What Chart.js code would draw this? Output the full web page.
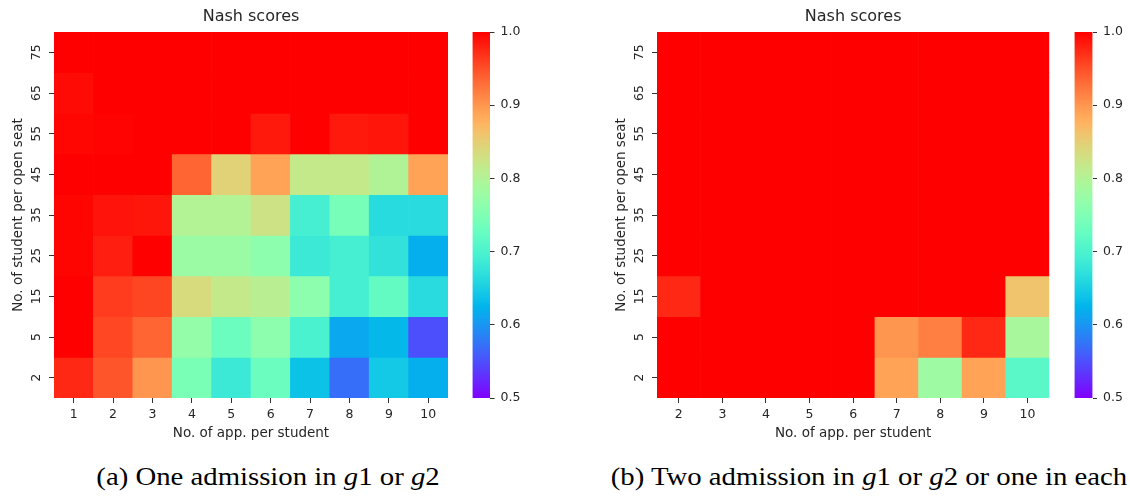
<!DOCTYPE html>
<html>
<head>
<meta charset="utf-8">
<script src="https://cdn.jsdelivr.net/npm/chart.js@4.4.1/dist/chart.umd.min.js"></script>
<style>
  body { margin: 0; background: #fff; width: 1130px; height: 496px; position: relative; overflow: hidden; }
  canvas { position: absolute; top: 0; }
  .cap { position: absolute; top: 463px; font-family: "Liberation Serif", "Times New Roman", serif; font-size: 25px; color: #000; white-space: nowrap; transform: translateX(-50%) scaleX(1.15); }
</style>
</head>
<body>
<canvas id="heatA" width="465" height="450" style="left:0px"></canvas>
<canvas id="barA" width="70" height="450" style="left:465px"></canvas>
<canvas id="heatB" width="464" height="450" style="left:603px"></canvas>
<canvas id="barB" width="63" height="450" style="left:1067px"></canvas>
<div class="cap" style="left:268px">(a) One admission in <i>g</i>1 or <i>g</i>2</div>
<div class="cap" style="left:869px">(b) Two admission in <i>g</i>1 or <i>g</i>2 or one in each</div>

<script>
// rows, top to bottom
var seatLabels = ['75', '65', '55', '45', '35', '25', '15', '5', '2'];

// (a) one admission in g1 or g2
var appLabelsA = ['1', '2', '3', '4', '5', '6', '7', '8', '9', '10'];
var scoresA = [
  [1.000, 1.000, 1.000, 1.000, 1.000, 1.000, 1.000, 1.000, 1.000, 1.000],
  [0.993, 1.000, 1.000, 1.000, 1.000, 1.000, 1.000, 1.000, 1.000, 1.000],
  [0.996, 0.998, 1.000, 1.000, 1.000, 0.985, 1.000, 0.985, 0.987, 1.000],
  [1.000, 1.000, 1.000, 0.936, 0.846, 0.890, 0.816, 0.816, 0.798, 0.890],
  [0.997, 0.988, 0.986, 0.800, 0.800, 0.826, 0.694, 0.742, 0.664, 0.665],
  [0.997, 0.981, 1.000, 0.777, 0.777, 0.762, 0.684, 0.694, 0.674, 0.620],
  [1.000, 0.962, 0.956, 0.836, 0.816, 0.806, 0.762, 0.694, 0.723, 0.665],
  [1.000, 0.955, 0.936, 0.770, 0.730, 0.762, 0.699, 0.615, 0.629, 0.551],
  [0.975, 0.946, 0.900, 0.745, 0.684, 0.730, 0.638, 0.571, 0.645, 0.620]
];

// (b) two admissions in g1 or g2, or one in each
var appLabelsB = ['2', '3', '4', '5', '6', '7', '8', '9', '10'];
var scoresB = [
  [1.000, 1.000, 1.000, 1.000, 1.000, 1.000, 1.000, 1.000, 1.000],
  [1.000, 1.000, 1.000, 1.000, 1.000, 1.000, 1.000, 1.000, 1.000],
  [1.000, 1.000, 1.000, 1.000, 1.000, 1.000, 1.000, 1.000, 1.000],
  [1.000, 1.000, 1.000, 1.000, 1.000, 1.000, 1.000, 1.000, 1.000],
  [1.000, 1.000, 1.000, 1.000, 1.000, 1.000, 1.000, 1.000, 1.000],
  [1.000, 1.000, 1.000, 1.000, 1.000, 1.000, 1.000, 1.000, 1.000],
  [0.975, 1.000, 1.000, 1.000, 1.000, 1.000, 1.000, 1.000, 0.860],
  [1.000, 1.000, 1.000, 1.000, 1.000, 0.900, 0.918, 0.975, 0.790],
  [1.000, 1.000, 1.000, 1.000, 1.000, 0.890, 0.780, 0.890, 0.713]
];

var cbTicks = [0.5, 0.6, 0.7, 0.8, 0.9, 1.0];
var vmin = 0.5, vmax = 1.0;

var textColor = '#262626';
Chart.defaults.font.family = 'DejaVu Sans';
Chart.defaults.color = textColor;

// matplotlib "rainbow" colormap
function rainbow(t) {
  t = Math.min(1, Math.max(0, t));
  var r = Math.min(1, Math.abs(2 * t - 0.5));
  var g = Math.sin(Math.PI * t);
  var b = Math.cos(Math.PI * t / 2);
  return 'rgb(' + Math.round(r * 255) + ',' + Math.round(g * 255) + ',' + Math.round(b * 255) + ')';
}

function cellColor(v) {
  return rainbow((v - vmin) / (vmax - vmin));
}

function heatmap(id, cols, scores, rightPad) {
  // one floating-bar dataset per row of the grid
  var datasets = scores.map(function (row, r) {
    return {
      data: row.map(function () { return [r, r + 1]; }),
      backgroundColor: row.map(cellColor),
      borderWidth: 0,
      barPercentage: 1,
      categoryPercentage: 1,
      grouped: false
    };
  });

  return new Chart(document.getElementById(id), {
    type: 'bar',
    data: { labels: cols, datasets: datasets },
    options: {
      responsive: false,
      animation: false,
      events: [],
      layout: { padding: { left: 0, right: rightPad, top: 0, bottom: 0 } },
      plugins: {
        legend: { display: false },
        tooltip: { enabled: false },
        title: {
          display: true,
          text: 'Nash scores',
          fullSize: false,
          color: textColor,
          font: { size: 16, weight: 'normal' },
          padding: { top: 7, bottom: 5.8 }
        }
      },
      scales: {
        x: {
          type: 'category',
          offset: true,
          border: { display: false },
          grid: { offset: false, drawOnChartArea: false, drawTicks: true, tickLength: 5, color: '#333' },
          ticks: { font: { size: 12.5 }, padding: 4.5, maxRotation: 0, autoSkip: false },
          title: { display: true, text: 'No. of app. per student', font: { size: 13.5 }, padding: { top: 0, bottom: 8.5 } },
          afterFit: function (s) { s.height = 52; }
        },
        y: {
          type: 'linear',
          min: 0,
          max: seatLabels.length,
          reverse: true,
          border: { display: false },
          afterBuildTicks: function (s) {
            s.ticks = seatLabels.map(function (l, i) { return { value: i + 0.5 }; });
          },
          grid: { drawOnChartArea: false, drawTicks: true, tickLength: 5, color: '#333' },
          ticks: {
            callback: function (v) { return seatLabels[Math.floor(v)]; },
            minRotation: 90,
            maxRotation: 90,
            crossAlign: 'center',
            padding: 4,
            autoSkip: false,
            font: { size: 12.5 }
          },
          title: { display: true, text: 'No. of student per open seat', font: { size: 13.5 }, padding: { top: 10, bottom: 0 } },
          afterFit: function (s) { s.width = 54; }
        }
      }
    }
  });
}

function colorbar(id, axisWidth) {
  return new Chart(document.getElementById(id), {
    type: 'bar',
    data: {
      labels: [''],
      datasets: [{
        data: [[vmin, vmax]],
        borderWidth: 0,
        barPercentage: 1,
        categoryPercentage: 1,
        backgroundColor: function (ctx) {
          var ch = ctx.chart, a = ch.chartArea;
          if (!a) return 'red';
          var g = ch.ctx.createLinearGradient(0, a.bottom, 0, a.top);
          for (var i = 0; i <= 40; i++) g.addColorStop(i / 40, rainbow(i / 40));
          return g;
        }
      }]
    },
    options: {
      responsive: false,
      animation: false,
      events: [],
      layout: { padding: { left: 7.5, right: 0, top: 32, bottom: 52 } },
      plugins: { legend: { display: false }, tooltip: { enabled: false } },
      scales: {
        x: { display: false },
        y: {
          position: 'right',
          min: vmin,
          max: vmax,
          border: { display: false },
          afterBuildTicks: function (s) {
            s.ticks = cbTicks.map(function (v) { return { value: v }; });
          },
          grid: { drawOnChartArea: false, drawTicks: true, tickLength: 4.5, color: '#333' },
          ticks: { callback: function (v) { return v.toFixed(1); }, font: { size: 12.5 }, padding: 6 },
          afterFit: function (s) { s.width = axisWidth; }
        }
      }
    }
  });
}

heatmap('heatA', appLabelsA, scoresA, 17);
colorbar('barA', 45);
heatmap('heatB', appLabelsB, scoresB, 17.7);
colorbar('barB', 37.5);
</script>
</body>
</html>
